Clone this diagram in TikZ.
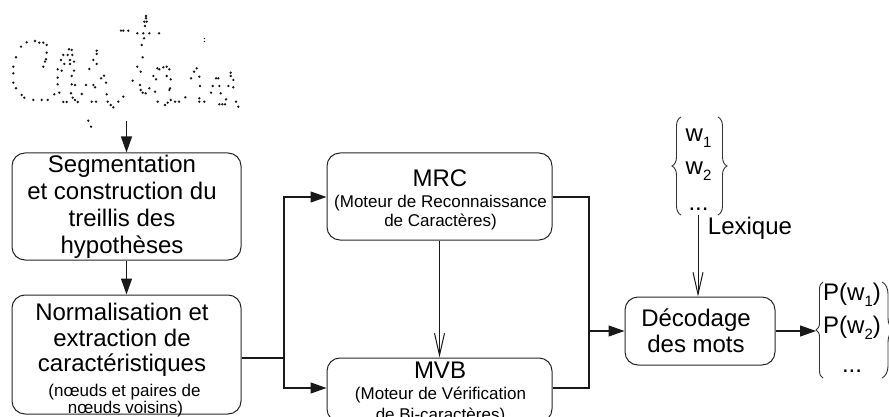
\documentclass[tikz,border=0pt]{standalone}
\usepackage{fontspec}
\setmainfont{Liberation Sans}
\usetikzlibrary{arrows.meta,decorations.pathreplacing,calc}

% lowered subscript digit, as in w1, w2
\newcommand{\lowidx}[1]{\raisebox{-6pt}{\fontsize{15}{15}\selectfont #1}}

\begin{document}
\begin{tikzpicture}[x=1pt,y=-1pt,
  box/.style={draw=black!85, line width=1pt, rounded corners=13pt, inner sep=0pt},
  big/.style={font=\fontsize{24}{27}\selectfont, align=center, inner sep=0pt},
  small/.style={font=\fontsize{17}{20}\selectfont, align=center, inner sep=0pt},
  wire/.style={line width=1.2pt, draw=black!90},
  arr/.style={wire, -{Triangle[length=16pt,width=11pt]}},
  varr/.style={line width=1pt, draw=black!90, -{Straight Barb[length=22pt,width=10pt]}},
  brc/.style={draw=black!80, line width=0.9pt, decorate, decoration={brace, amplitude=#1}},
  dot/.style={fill=black!90},
]
\useasboundingbox (0,0) rectangle (889,417);

% dotted handwritten word
\foreach \x/\y in {26.7/42.3, 21/46.7, 35/41, 39.3/42.7, 43.3/42.7, 46.7/45, 16/57.3,
  13.3/66.7, 13.3/73.3, 13.3/82.7, 16/88.3, 21.7/95, 24.3/97.7, 33.3/100, 41.7/100,
  47.7/100, 46.7/52.7, 46/59.3, 45/61.7, 43.3/66.7,
  69/49.3, 71.7/50, 63.3/55, 67.7/55, 72.3/55, 61/60, 70/60, 74/61.7, 64.3/64, 70/64,
  57.7/69.3, 61.7/70.7, 74/70.7, 71.7/76, 57.7/77.7, 57.7/84.3, 71.7/84.3, 75/85,
  59.3/92.7, 54.3/94.3, 71/93.3, 72.7/97.7, 75/100, 77.7/102, 63.3/102, 66.7/102,
  96.7/50.7, 96.7/54, 93.3/60, 96.7/64, 89.3/69, 86/85, 93.3/85, 95/87.3, 81.7/94,
  91.7/101.7, 96/101.7, 101/78.3, 104/75.7, 106/82.7, 106.7/94.3, 107.7/101.7,
  110.7/105, 113.3/107.3, 118.3/101.7, 88.3/120.7, 91/126.7,
  146/16, 146/18.3, 144.3/21.7, 146.7/21.7, 145/26, 121/30.7, 123.3/30.7, 128.3/30.7,
  137.3/33.3, 143.3/33.3, 149.3/33.3, 159/33.3, 144/38.3, 141.7/45, 142.7/57.3,
  137.3/66.7, 140.7/71.7, 132.7/80.7, 140/85, 140.7/90, 142.7/92.7, 145.7/93.3,
  149.3/88.3, 155/91.7, 123.3/96.7,
  157.3/68.3, 159.3/69.3, 163.3/67.3, 166.7/66.7, 169.3/69.3, 153.3/76, 156/79.3,
  166.7/76, 170.7/79.3, 170/88.3, 169.3/90, 157.7/101.7, 165/105, 167.7/102.7,
  170.7/100, 175/101.7, 179/101.7, 185.3/97.3,
  194/71.7, 196.7/68.3, 191/78.3, 199.3/76.7, 200/86, 199.3/98.3, 199.3/101.7,
  204.3/101.7, 211/92.7, 212.7/86, 216/78.3, 218.3/78.3, 219.3/86, 220.7/93.3,
  219.3/104.3, 222.3/104.3, 225/104.3, 226/99.3, 228.3/86, 230.7/72.7, 230.7/76,
  233.3/80, 233.3/87.3, 236/101.7, 238.3/106.7}
  \fill[dot] (\x,\y) circle (1.3pt);
\fill[dot] (204.3,38.5) circle (0.7pt) (204.3,41.5) circle (0.7pt);

% processing blocks
\node[box, minimum width=229pt, minimum height=107pt] (seg)  at (126.5,206.5) {};
\node[box, minimum width=229pt, minimum height=119pt] (norm) at (126.5,354.5) {};
\node[box, minimum width=225pt, minimum height=87pt]  (mrc)  at (439.5,196.5) {};
\node[box, minimum width=225pt, minimum height=64pt]  (mvb)  at (439.5,390) {};
\node[box, minimum width=150pt, minimum height=68pt]  (dec)  at (700,331) {};

% block texts
\node[big] (seg-t) at (122,207) {Segmentation\\et construction du\\treillis des\\hypothèses};
\node[big, font=\fontsize{24}{25.5}\selectfont] (norm-t) at (122,340) {Normalisation et\\extraction de\\caractéristiques};
\node[small, anchor=base] (norm-s1) at (124.5,396) {(nœuds et paires de};
\node[small, anchor=base] (norm-s2) at (125.5,413) {nœuds voisins)};
\node[big, anchor=base] (mrc-t) at (440,186) {MRC};
\node[small] (mrc-s) at (440.5,212.6) {(Moteur de Reconnaissance\\de Caractères)};
\node[big, anchor=base] (mvb-t) at (440,378) {MVB};
\node[small, font=\fontsize{17}{21}\selectfont] (mvb-s) at (440.5,405.5) {(Moteur de Vérification\\de Bi-caractères)};
\node[big, font=\fontsize{24}{26.5}\selectfont] (dec-t) at (696,331) {Décodage\\des mots};

% lexicon
\node[big, anchor=base] (w1) at (698.5,141.7) {w\lowidx{1}};
\node[big, anchor=base] (w2) at (698.5,175) {w\lowidx{2}};
\node[big, anchor=base] (wd) at (698.5,210) {...};
\node[big, anchor=base] (lex) at (750,234) {Lexique};
\draw[brc=9pt] (681,215) -- (681,117);
\draw[brc=9pt] (718,117) -- (718,215);

% word scores
\node[big, anchor=base] (p1) at (852,300) {P(w\lowidx{1})};
\node[big, anchor=base] (p2) at (852,333) {P(w\lowidx{2})};
\node[big, anchor=base] (pd) at (852,372) {...};
\draw[brc=7pt] (823,378) -- (823,282);
\draw[brc=12pt] (882,282) -- (882,378);

% junction points
\coordinate (handout) at (126.5,121);
\coordinate (split) at (284,358);
\coordinate (split-top) at (284,197);
\coordinate (split-bot) at (284,388);
\coordinate (merge) at (589,331);
\coordinate (lexbot) at (698,215);
\coordinate (ptip) at (816,331);

% connectors
\draw[arr] (handout) -- (seg.north);
\draw[arr] (seg.south) -- (norm.north);
\draw[wire] (norm.east |- split) -- (split);
\draw[arr] (split) |- (mrc.west |- split-top);
\draw[arr] (split) |- (mvb.west |- split-bot);
\draw[varr] (mrc.south) -- (mvb.north);
\draw[wire] (mrc.east |- split-top) -| (merge);
\draw[wire] (mvb.east |- split-bot) -| (merge);
\draw[arr] (merge) -- (dec.west |- merge);
\draw[varr] (lexbot) -- (lexbot |- dec.north);
\draw[arr] (dec.east |- ptip) -- (ptip);
\end{tikzpicture}
\end{document}
